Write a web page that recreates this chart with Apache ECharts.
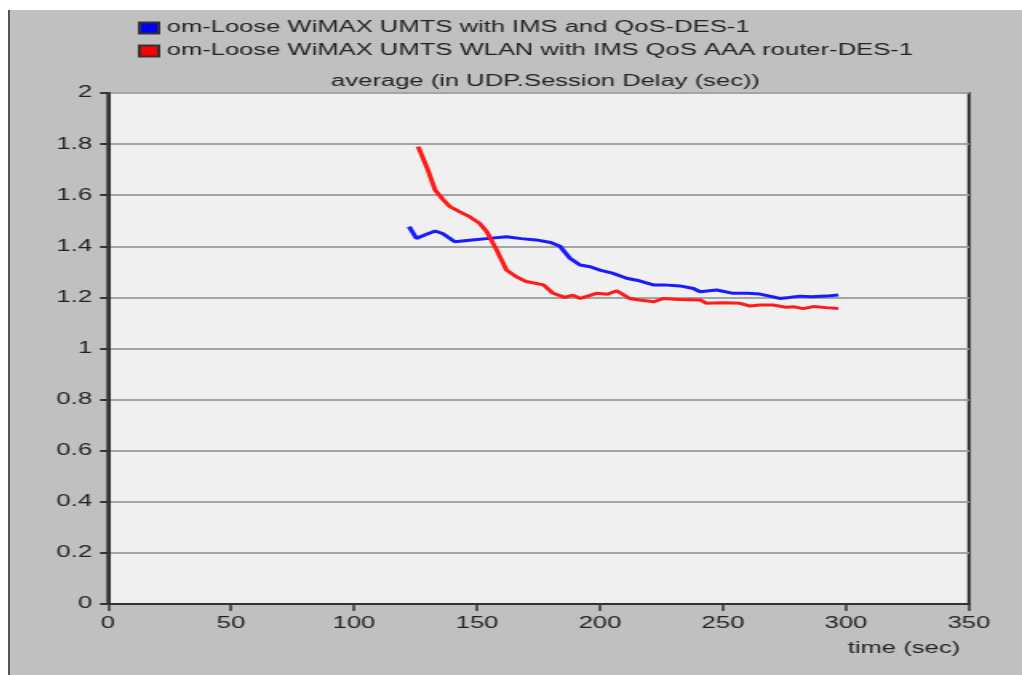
<!DOCTYPE html>
<html>
<head>
<meta charset="utf-8">
<script src="https://cdn.jsdelivr.net/npm/echarts@6/dist/echarts.min.js"></script>
<style>
  html, body { margin: 0; padding: 0; background: #fff; overflow: hidden; }
  #frame {
    position: absolute; left: 8px; top: 10px;
    width: 1014px; height: 665px;
    background: #c0c0c0;
    border-left: 2px solid #555;
    box-sizing: border-box;
    overflow: hidden;
  }
  /* the original picture is stretched sideways, so the chart is too */
  #mainChart {
    position: absolute; left: 0; top: 0;
    width: 633px; height: 665px;
    transform: scaleX(1.5987);
    transform-origin: 0 0;
  }
</style>
</head>
<body>
<div id="frame"><div id="mainChart"></div></div>
<script>
var seriesNames = ['om-Loose WiMAX UMTS with IMS and QoS-DES-1',
    'om-Loose WiMAX UMTS WLAN with IMS QoS AAA router-DES-1'];

// blue series
var blueTime = [122.4, 125.4, 129, 133, 136, 141, 148, 155, 162, 168, 174, 180, 183.7, 187.8, 191.9, 196, 200, 205, 210.8, 216, 221.7, 226, 232.5, 238, 240.7, 247.4, 254.2, 260, 265, 270, 273, 277, 281.3, 286, 292, 296.9];
var blueDelay = [1.477, 1.431, 1.445, 1.46, 1.45, 1.418, 1.425, 1.431, 1.437, 1.43, 1.425, 1.415, 1.40, 1.353, 1.327, 1.32, 1.307, 1.295, 1.275, 1.265, 1.249, 1.249, 1.245, 1.235, 1.222, 1.229, 1.216, 1.216, 1.213, 1.203, 1.196, 1.2, 1.205, 1.203, 1.205, 1.209];

// red series
var redTime = [126.1, 130, 133, 136, 139, 143, 147, 151, 154, 158, 162, 166, 170, 174, 177, 181, 185.7, 189, 192, 195, 198.6, 203, 206.8, 212, 216, 222, 225.7, 232, 240.7, 243.3, 250, 257, 261, 265, 270.4, 275.8, 279, 282.6, 286.7, 292, 296.9];
var redDelay = [1.79, 1.70, 1.62, 1.585, 1.555, 1.535, 1.516, 1.49, 1.457, 1.385, 1.307, 1.281, 1.262, 1.255, 1.249, 1.216, 1.2, 1.209, 1.196, 1.205, 1.216, 1.212, 1.226, 1.196, 1.19, 1.183, 1.196, 1.192, 1.19, 1.177, 1.179, 1.177, 1.166, 1.17, 1.17, 1.161, 1.163, 1.156, 1.164, 1.16, 1.157];

var xTicks = { min: 0, max: 350, interval: 50 };
var yTicks = { min: 0, max: 2, interval: 0.2 };

function zip(a, b) {
    return a.map(function (t, i) { return [t, b[i]]; });
}

var myChart = echarts.init(document.getElementById('mainChart'));

var fontFam = 'Liberation Sans, Arial, sans-serif';
var txtColor = '#222';

var option = {
    animation: false,
    backgroundColor: 'transparent',
    title: {
        text: 'average (in UDP.Session Delay (sec))',
        left: 330,
        top: 59,
        textAlign: 'center',
        textStyle: {
            color: txtColor,
            fontSize: 16,
            fontWeight: 'normal',
            fontFamily: fontFam
        }
    },
    legend: {
        orient: 'vertical',
        left: 75,
        top: 5,
        itemGap: 7,
        itemWidth: 12,
        itemHeight: 11,
        icon: 'rect',
        data: seriesNames,
        textStyle: {
            color: txtColor,
            fontSize: 16,
            fontFamily: fontFam
        }
    },
    grid: {
        show: true,
        left: 61.3,
        top: 83,
        right: 33.2,
        bottom: 71,
        backgroundColor: '#f0f0f0',
        borderColor: '#333',
        borderWidth: 2
    },
    xAxis: {
        type: 'value',
        min: xTicks.min,
        max: xTicks.max,
        interval: xTicks.interval,
        axisLine: { show: true, lineStyle: { color: '#333', width: 2 } },
        axisTick: { show: true, length: 7, lineStyle: { color: '#333', width: 1.5 } },
        axisLabel: { color: txtColor, fontSize: 16, fontFamily: fontFam, margin: 12 },
        splitLine: { show: false }
    },
    yAxis: {
        type: 'value',
        min: yTicks.min,
        max: yTicks.max,
        interval: yTicks.interval,
        axisLine: { show: true, lineStyle: { color: '#333', width: 2 } },
        axisTick: { show: true, length: 5, lineStyle: { color: '#333', width: 2 } },
        axisLabel: { color: txtColor, fontSize: 16, fontFamily: fontFam, margin: 10 },
        splitLine: { show: true, lineStyle: { color: '#a4a4a4', width: 2 } }
    },
    graphic: [
        {
            type: 'text',
            left: 524,
            top: 631,
            style: {
                text: 'time (sec)',
                fill: txtColor,
                fontSize: 16,
                fontFamily: fontFam
            }
        }
    ],
    series: [
        {
            name: seriesNames[0],
            type: 'line',
            symbol: 'none',
            data: zip(blueTime, blueDelay),
            itemStyle: { color: '#0000ff', borderColor: '#333', borderWidth: 1 },
            lineStyle: { color: '#1a1aff', width: 3 }
        },
        {
            name: seriesNames[1],
            type: 'line',
            symbol: 'none',
            data: zip(redTime, redDelay),
            itemStyle: { color: '#ff0000', borderColor: '#333', borderWidth: 1 },
            lineStyle: { color: '#ff1a1a', width: 3 }
        }
    ]
};
myChart.setOption(option);
window.onresize = function () {
    myChart.resize();
};
</script>
</body>
</html>
